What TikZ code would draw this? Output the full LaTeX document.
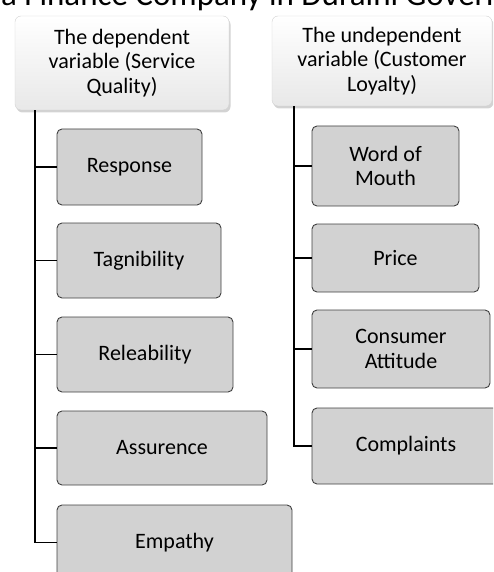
\documentclass[tikz,border=0pt]{standalone}
\usepackage{fontspec}
\setmainfont{Carlito}
\usetikzlibrary{shadows}

\tikzset{
	headbox/.style={rounded corners=6pt, draw=gray!35, top color=white, bottom color=gray!18,
		drop shadow={shadow xshift=1.5pt, shadow yshift=-2.5pt, opacity=0.35},
		align=center, inner sep=0pt, font=\fontsize{22}{24.5}\selectfont},
	itembox/.style={rounded corners=5pt, draw=black!75, fill=gray!35, line width=0.9pt,
		align=center, inner sep=0pt, font=\fontsize{22}{24.5}\selectfont},
	bus/.style={black, line width=1.3pt}
}

\begin{document}
\begin{tikzpicture}[x=1pt, y=-1pt]
		\useasboundingbox (0,0) rectangle (493,572);
		\clip (0,0) rectangle (493,572);
		% title, cut at the top
		\node[anchor=base west, inner sep=0pt, font=\fontsize{33}{33}\selectfont] (title) at (1,6)
			{a Finance Company in Duraini Governorate};
		% headers
		\node[headbox, minimum width=214pt, minimum height=94pt] (dep) at (122,63)
			{The dependent\\variable (Service\\Quality)};
		\node[headbox, minimum width=220pt, minimum height=90pt] (undep) at (382,61)
			{The undependent\\variable (Customer\\Loyalty)};
		% left column
		\node[itembox, minimum width=145pt, minimum height=76pt] (resp) at (129.5,167) {Response};
		\node[itembox, minimum width=164pt, minimum height=75pt] (tang) at (139,260.5) {Tagnibility};
		\node[itembox, minimum width=176pt, minimum height=75pt] (rel) at (145,354.5) {Releability};
		\node[itembox, minimum width=210pt, minimum height=74pt] (assu) at (162,448) {Assurence};
		\node[itembox, minimum width=235pt, minimum height=75pt] (emp) at (174.5,542.5) {Empathy};
		% right column
		\node[itembox, minimum width=147pt, minimum height=80pt] (word) at (385.5,166) {Word of\\Mouth};
		\node[itembox, minimum width=167pt, minimum height=68pt] (price) at (395.5,258) {Price};
		\node[itembox, minimum width=178pt, minimum height=78pt] (cons) at (401,349) {Consumer\\Attitude};
		\node[itembox, minimum width=188pt, minimum height=76pt] (comp) at (406,446) {Complaints};
		% connectors
		\coordinate (lbus) at (35,0);
		\coordinate (rbus) at (294,0);
		\draw[bus] (dep.south -| lbus) -- (emp.west -| lbus) -- (emp.west);
		\foreach \n in {resp,tang,rel,assu}
			\draw[bus] (\n.west -| lbus) -- (\n.west);
		\draw[bus] (undep.south -| rbus) -- (comp.west -| rbus) -- (comp.west);
		\foreach \n in {word,price,cons}
			\draw[bus] (\n.west -| rbus) -- (\n.west);
	\end{tikzpicture}
\end{document}
